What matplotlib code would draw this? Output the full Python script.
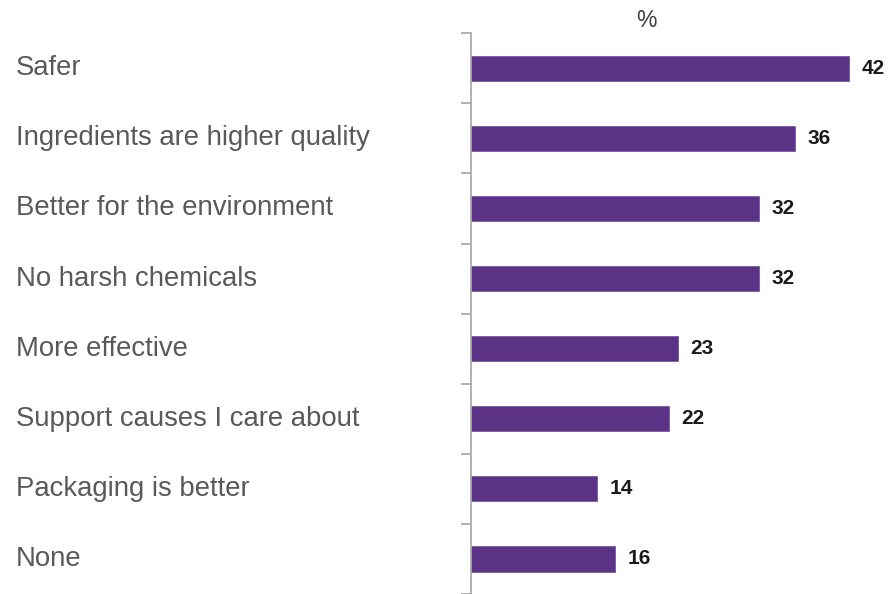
import matplotlib
matplotlib.use("Agg")
import matplotlib.pyplot as plt
import matplotlib.transforms as mtransforms
import numpy as np

categories = [
    "Safer",
    "Ingredients are higher quality",
    "Better for the environment",
    "No harsh chemicals",
    "More effective",
    "Support causes I care about",
    "Packaging is better",
    "None",
]
values = [42, 36, 32, 32, 23, 22, 14, 16]

BAR_COLOR = "#5B3285"
LABEL_COLOR = "#595959"
AXIS_COLOR = "#A6A6A6"

plt.rcParams["font.family"] = ["Liberation Sans", "DejaVu Sans"]

fig = plt.figure(figsize=(8.94, 5.94), dpi=100)
ax = fig.add_axes([0.527, 0.0, 0.473, 0.944])

y = np.arange(len(categories))
ax.barh(y, values, height=0.36, color=BAR_COLOR, edgecolor="#7A56A0", linewidth=0.6)

for yi, v in zip(y, values):
    ax.text(v + 1.4, yi, f"{v}", va="center", ha="left",
            fontsize=15, fontweight="bold", color="#1A1A1A")

ax.set_xlim(0, 47)
ax.set_ylim(len(categories) - 0.5, -0.5)

# category labels: x in figure pixels, y in data units
label_tf = mtransforms.blended_transform_factory(mtransforms.IdentityTransform(), ax.transData)
for yi, cat in zip(y, categories):
    ax.text(16, yi, cat, transform=label_tf, va="center", ha="left",
            fontsize=19.8, color=LABEL_COLOR)

for side in ("top", "right", "bottom"):
    ax.spines[side].set_visible(False)
ax.spines["left"].set_color(AXIS_COLOR)
ax.spines["left"].set_linewidth(1.2)

ax.set_xticks([])
ax.set_yticks([])
ax.set_yticks(np.arange(-0.5, len(categories)), minor=True)
ax.tick_params(axis="y", which="minor", length=7, width=1.2, color=AXIS_COLOR,
               labelleft=False)

fig.text(0.7235, 0.966, "%", ha="center", va="center", fontsize=16.5, color="#404040")

fig.savefig("out.png", dpi=100)
